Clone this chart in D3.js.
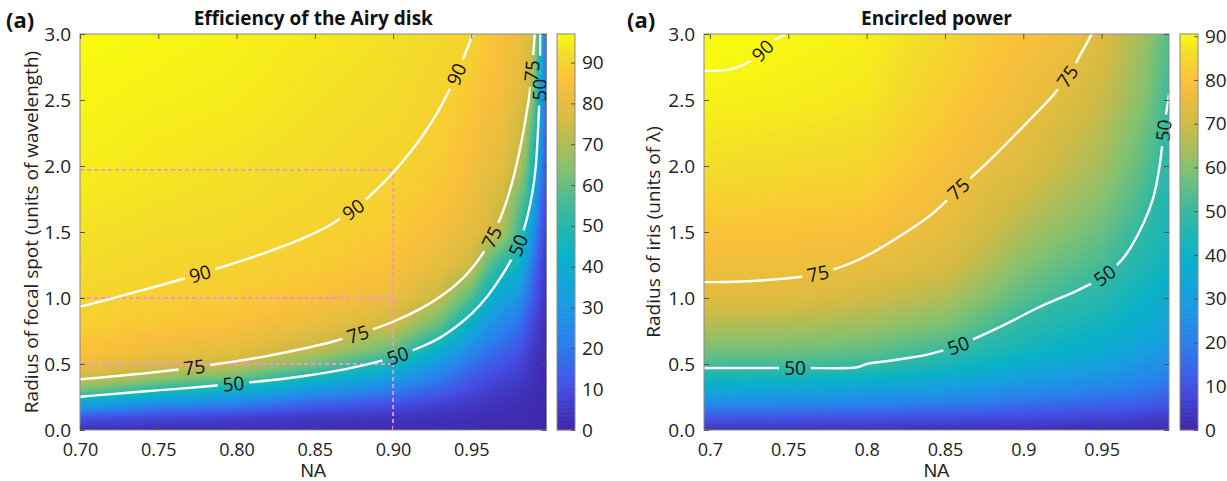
<!DOCTYPE html>
<html><head><meta charset="utf-8">
<script src="https://cdn.jsdelivr.net/npm/d3@7"></script>
<style>
body{margin:0;background:#fff;}
svg text{font-family:"Open Sans","Noto Sans",sans-serif;}
</style></head><body>
<svg id="chart" width="1227" height="481"></svg>
<script>
// ---------------- DATA ----------------
// Panel 1: Efficiency of the Airy disk (%), grid
const airyNA = [0.70, 0.75, 0.80, 0.85, 0.90, 0.93, 0.95, 0.96, 0.97, 0.98, 0.985, 0.99, 0.994, 0.998];
const airyRadius = [0, 0.1, 0.2, 0.3, 0.4, 0.5, 0.6, 0.8, 1.0, 1.25, 1.5, 1.75, 2.0, 2.5, 3.0];
const airyEfficiency = [
  [2, 2, 2, 2, 1.5, 1.5, 1, 1, 1, 1, 1, 0.5, 0.5, 0],
  [12, 9, 7, 5, 4, 3, 2.5, 2, 2, 1.5, 1.5, 1, 0.8, 0.3],
  [35, 26, 22, 15, 11, 7, 5, 4, 3, 2.5, 2, 1.5, 1, 0.5],
  [62, 50, 42, 29, 21, 14, 9, 7, 5, 4, 3, 2, 1.5, 0.7],
  [76, 68, 61, 47, 33, 21, 13, 10, 8, 6, 4.5, 3, 2, 0.8],
  [82, 77, 74, 62, 47, 29, 18, 14, 11, 8.5, 6, 4, 2.5, 1],
  [85.5, 82, 79.5, 72.5, 59, 40, 25, 19, 15, 11.5, 8, 5, 3, 1.3],
  [89, 87, 85, 81, 75, 60, 40, 30, 24, 19, 13, 8, 5, 2],
  [90.7, 89.2, 88.2, 85.3, 81.5, 73, 57, 44, 35, 29, 20, 12, 7, 3],
  [92, 90.8, 89.6, 88.3, 85.3, 80, 75, 60, 50, 45, 31, 18, 10, 4.5],
  [93, 92, 91.4, 89.8, 87.8, 83.5, 79.5, 77, 70, 55, 44, 26, 14, 6],
  [94, 93, 92.2, 90.9, 89.2, 86, 82, 78.5, 75, 62, 55, 35, 19, 8],
  [95, 93.8, 93, 91.9, 90.3, 88, 84, 81, 79.5, 73, 62, 45, 25, 10],
  [96, 95.2, 94.5, 93, 91.8, 89.8, 87.3, 84.5, 83, 79, 76, 62, 36, 14],
  [97, 96.3, 95.5, 94.1, 92.8, 91, 90.2, 87.5, 85, 82, 80, 76, 46, 19]
];
// contour lines [NA, radius]
const airyContour90 = [[0.70,0.934],[0.72,0.995],[0.74,1.06],[0.76,1.125],[0.78,1.195],[0.80,1.27],[0.82,1.35],[0.84,1.44],[0.86,1.555],[0.88,1.72],[0.90,1.95],[0.91,2.09],[0.92,2.25],[0.93,2.44],[0.94,2.68],[0.951,3.0]];
const airyContour75 = [[0.70,0.384],[0.72,0.405],[0.74,0.428],[0.76,0.455],[0.78,0.487],[0.80,0.522],[0.82,0.562],[0.84,0.61],[0.86,0.665],[0.88,0.735],[0.90,0.82],[0.92,0.935],[0.93,1.01],[0.94,1.1],[0.95,1.22],[0.96,1.39],[0.97,1.65],[0.975,1.83],[0.98,2.07],[0.985,2.38],[0.9874,2.57],[0.9905,3.0]];
const airyContour50 = [[0.70,0.252],[0.72,0.272],[0.74,0.292],[0.76,0.31],[0.78,0.33],[0.80,0.352],[0.82,0.375],[0.84,0.403],[0.86,0.44],[0.88,0.488],[0.90,0.55],[0.92,0.64],[0.93,0.70],[0.94,0.78],[0.95,0.88],[0.96,1.01],[0.97,1.18],[0.975,1.28],[0.98,1.40],[0.985,1.58],[0.989,1.8],[0.991,1.98],[0.9925,2.25],[0.9935,2.55],[0.994,3.0]];
const airyLabels90 = [[0.777,1.17],[0.874,1.68],[0.9395,2.70]];
const airyLabels75 = [[0.773,0.48],[0.8775,0.72],[0.963,1.46],[0.989,2.72]];
const airyLabels50 = [[0.798,0.336],[0.903,0.56],[0.98,1.40],[0.9935,2.58]];
const guideNA = 0.90;
const guideRadii = [0.5, 1.0, 1.97];
const airyNATicks = [0.70, 0.75, 0.80, 0.85, 0.90, 0.95];
const airyNALabels = ["0.70", "0.75", "0.80", "0.85", "0.90", "0.95"];
const airyColorTicks = [0, 10, 20, 30, 40, 50, 60, 70, 80, 90];
const airyColorMax = 97;

// Panel 2: Encircled power (%)
const encNA = [0.70, 0.75, 0.80, 0.85, 0.875, 0.90, 0.93, 0.95, 0.97, 0.98, 0.99];
const encRadius = [0, 0.1, 0.2, 0.3, 0.4, 0.5, 0.6, 0.8, 1.0, 1.25, 1.5, 1.75, 2.0, 2.5, 3.0];
const encPower = [
  [3, 3, 3, 2.5, 2.5, 2.5, 2, 2, 2, 1.5, 1.5],
  [12, 11.5, 11, 10, 9.5, 9, 8, 7.5, 7, 6, 5.5],
  [23, 22, 21, 19, 18, 16.5, 15, 14, 13, 12, 11],
  [34, 33, 31, 28, 26, 24, 22, 20.5, 19, 17.5, 16],
  [44, 43.5, 41, 37, 34, 31.5, 28.5, 26.5, 24, 22, 20.5],
  [52, 51.5, 50, 44, 40.5, 37.5, 34, 32, 28.5, 26, 24.5],
  [58, 57.5, 55.5, 50, 46, 42.5, 38.5, 36.5, 32.5, 30, 28],
  [66, 65.5, 63.5, 59, 53.5, 48, 44, 42, 38, 35.5, 33],
  [73, 73, 70, 65.5, 60, 54, 49, 46.5, 42, 40, 37],
  [77, 77, 75.5, 71.5, 66.5, 60, 55, 52, 46.5, 44.5, 41.5],
  [80.5, 80, 79, 74.5, 70.5, 65, 60, 56.5, 50, 47.5, 44],
  [83.5, 83, 82, 77, 73, 69, 64, 60.5, 54, 50, 46],
  [86, 85.5, 84.5, 79, 75.5, 73, 67.5, 64, 57, 53, 48],
  [89, 88.5, 87.5, 82.5, 79.5, 76.5, 72.5, 69, 62.5, 58.5, 51.5],
  [91, 90, 89, 85, 82, 79.5, 77, 73, 66, 62, 55]
];
const encContour90 = [[0.6962,2.72],[0.712,2.73],[0.722,2.77],[0.729,2.82],[0.736,2.9],[0.741,2.95],[0.748,3.0]];
const encContour75 = [[0.6962,1.12],[0.72,1.125],[0.74,1.14],[0.76,1.165],[0.78,1.22],[0.80,1.32],[0.82,1.46],[0.84,1.62],[0.86,1.84],[0.88,2.06],[0.90,2.30],[0.92,2.55],[0.93,2.71],[0.94,2.92],[0.9437,3.0]];
const encContour50 = [[0.6962,0.47],[0.72,0.47],[0.76,0.47],[0.794,0.475],[0.80,0.5],[0.815,0.525],[0.84,0.575],[0.8584,0.64],[0.885,0.78],[0.91,0.93],[0.935,1.06],[0.952,1.17],[0.965,1.32],[0.9765,1.56],[0.983,1.76],[0.987,2.0],[0.99,2.3],[0.993,2.54]];
const encLabels90 = [[0.733,2.88]];
const encLabels75 = [[0.769,1.18],[0.8584,1.83],[0.9278,2.68]];
const encLabels50 = [[0.7543,0.47],[0.8584,0.64],[0.952,1.17],[0.9895,2.27]];
const encNATicks = [0.70, 0.75, 0.80, 0.85, 0.90, 0.95];
const encNALabels = ["0.7", "0.75", "0.8", "0.85", "0.9", "0.95"];
const encColorTicks = [0, 10, 20, 30, 40, 50, 60, 70, 80, 90];
const encColorMax = 90.5;

const radiusTicks = [0, 0.5, 1.0, 1.5, 2.0, 2.5, 3.0];
const radiusLabels = ["0.0", "0.5", "1.0", "1.5", "2.0", "2.5", "3.0"];

// parula-like colormap stops
const parulaColors = ["#3e26a8","#4450e6","#2a80ec","#179ee0","#08b2c6","#35b9a0","#82c170","#d0ba44","#fbc03a","#f3dc2a","#f9fb0e"];
const parulaPos = [0, 0.11, 0.22, 0.33, 0.44, 0.55, 0.66, 0.77, 0.88, 0.95, 1.0];

// ---------------- DRAW ----------------
const W = 1227, H = 481;
const svg = d3.select("#chart");
const defs = svg.append("defs");
const textColor = "#222";
const FS = 19, FSX = 18;

function makeColor(max) {
  return d3.scaleLinear().domain(parulaPos.map(t => t * max)).range(parulaColors)
    .interpolate(d3.interpolateRgb).clamp(true);
}

function bilerp(xs, ys, grid, xv, yv) {
  let i = d3.bisectRight(xs, xv) - 1; i = Math.max(0, Math.min(xs.length - 2, i));
  let j = d3.bisectRight(ys, yv) - 1; j = Math.max(0, Math.min(ys.length - 2, j));
  const tx = Math.max(0, Math.min(1, (xv - xs[i]) / (xs[i + 1] - xs[i])));
  const ty = Math.max(0, Math.min(1, (yv - ys[j]) / (ys[j + 1] - ys[j])));
  const a = grid[j][i], b = grid[j][i + 1], c = grid[j + 1][i], d = grid[j + 1][i + 1];
  return (a * (1 - tx) + b * tx) * (1 - ty) + (c * (1 - tx) + d * tx) * ty;
}

function drawPanel(p) {
  const x = d3.scaleLinear().domain(p.xDomain).range([p.x0, p.x1]);
  const y = d3.scaleLinear().domain([0, 3]).range([p.y1, p.y0]);
  const color = makeColor(p.cmax);
  const g = svg.append("g");

  // heatmap
  const w = Math.round(p.x1 - p.x0), h = Math.round(p.y1 - p.y0);
  const cv = document.createElement("canvas"); cv.width = w; cv.height = h;
  const ctx = cv.getContext("2d"); const img = ctx.createImageData(w, h);
  const lut = d3.range(1001).map(i => d3.rgb(color(i / 1000 * p.cmax)));
  for (let py = 0; py < h; py++) {
    const r = y.invert(p.y0 + (py + 0.5) * (p.y1 - p.y0) / h);
    for (let px = 0; px < w; px++) {
      const na = x.invert(p.x0 + (px + 0.5) * (p.x1 - p.x0) / w);
      const v = bilerp(p.naArr, p.rArr, p.grid, na, r);
      const c = lut[Math.round(Math.max(0, Math.min(1, v / p.cmax)) * 1000)];
      const k = (py * w + px) * 4;
      img.data[k] = c.r; img.data[k + 1] = c.g; img.data[k + 2] = c.b; img.data[k + 3] = 255;
    }
  }
  ctx.putImageData(img, 0, 0);
  g.append("image").attr("x", p.x0).attr("y", p.y0).attr("width", p.x1 - p.x0).attr("height", p.y1 - p.y0)
    .attr("preserveAspectRatio", "none").attr("href", cv.toDataURL());

  // clip + mask
  const clipId = p.id + "-clip";
  defs.append("clipPath").attr("id", clipId).append("rect")
    .attr("x", p.x0).attr("y", p.y0).attr("width", p.x1 - p.x0).attr("height", p.y1 - p.y0);
  const maskId = p.id + "-mask";
  const mask = defs.append("mask").attr("id", maskId).attr("maskUnits", "userSpaceOnUse")
    .attr("x", 0).attr("y", 0).attr("width", W).attr("height", H);
  mask.append("rect").attr("width", W).attr("height", H).attr("fill", "white");

  // guides
  if (p.guides) {
    const gg = g.append("g").attr("stroke", "#f78fd8").attr("stroke-width", 1.8)
      .attr("stroke-dasharray", "4,3").attr("fill", "none");
    p.guides.radii.forEach(rv => {
      gg.append("line").attr("x1", x(p.xDomain[0])).attr("x2", x(p.guides.na))
        .attr("y1", y(rv)).attr("y2", y(rv));
    });
    gg.append("line").attr("x1", x(p.guides.na)).attr("x2", x(p.guides.na))
      .attr("y1", y(0)).attr("y2", y(d3.max(p.guides.radii)));
  }

  const line = d3.line().x(d => x(d[0])).y(d => y(d[1])).curve(d3.curveCatmullRom.alpha(0.5));
  const cg = g.append("g").attr("clip-path", `url(#${clipId})`);
  const lg = cg.append("g").attr("mask", `url(#${maskId})`);
  const tg = g.append("g");
  p.contours.forEach(ct => {
    const path = lg.append("path").attr("d", line(ct.pts)).attr("fill", "none")
      .attr("stroke", "white").attr("stroke-width", 2.4);
    const node = path.node();
    const L = node.getTotalLength();
    const samples = d3.range(0, L + 0.5, 0.5).map(l => node.getPointAtLength(Math.min(l, L)));
    ct.labels.forEach(lb => {
      const lx = x(lb[0]), ly = y(lb[1]);
      let best = 0, bd = Infinity;
      samples.forEach((s, i) => { const d = (s.x - lx) ** 2 + (s.y - ly) ** 2; if (d < bd) { bd = d; best = i; } });
      const a = samples[Math.max(0, best - 14)], b = samples[Math.min(samples.length - 1, best + 14)];
      let ang = Math.atan2(b.y - a.y, b.x - a.x) * 180 / Math.PI;
      if (ang > 90) ang -= 180; if (ang < -90) ang += 180;
      const sp = samples[best];
      const t = tg.append("text").attr("transform", `translate(${sp.x},${sp.y}) rotate(${ang})`)
        .attr("text-anchor", "middle").attr("dy", "0.36em").attr("font-size", 19)
        .attr("fill", "#111").text(ct.level);
      const tw = t.node().getComputedTextLength();
      mask.append("rect").attr("transform", `translate(${sp.x},${sp.y}) rotate(${ang})`)
        .attr("x", -tw / 2 - 5).attr("y", -9).attr("width", tw + 10).attr("height", 18).attr("fill", "black");
    });
  });

  // box
  g.append("rect").attr("x", p.x0).attr("y", p.y0).attr("width", p.x1 - p.x0).attr("height", p.y1 - p.y0)
    .attr("fill", "none").attr("stroke", "#8a8a8a").attr("stroke-width", 1);

  // axes
  const ax = d3.axisBottom(x).tickValues(p.xTicks).tickFormat((d, i) => p.xLabels[i]).tickSizeInner(-5).tickSizeOuter(0).tickPadding(13.2);
  const axg = g.append("g").attr("transform", `translate(0,${p.y1})`).call(ax);
  const axt = g.append("g").attr("transform", `translate(0,${p.y0})`).call(d3.axisTop(x).tickValues(p.xTicks).tickFormat("").tickSizeInner(-5).tickSizeOuter(0));
  const ay = d3.axisLeft(y).tickValues(radiusTicks).tickFormat((d, i) => radiusLabels[i]).tickSizeInner(-5).tickSizeOuter(0).tickPadding(9);
  const ayg = g.append("g").attr("transform", `translate(${p.x0},0)`).call(ay);
  const ayr = g.append("g").attr("transform", `translate(${p.x1},0)`).call(d3.axisRight(y).tickValues(radiusTicks).tickFormat("").tickSizeInner(-5).tickSizeOuter(0));
  [axg, axt, ayg, ayr].forEach(a => {
    a.select(".domain").remove();
    a.selectAll(".tick line").attr("stroke", "#555");
    a.selectAll("text").attr("font-size", FS).attr("fill", textColor).attr("font-family", null);
  });
  axg.selectAll("text").attr("font-size", FSX).attr("dy", "0.71em");

  // axis labels
  g.append("text").attr("x", (p.x0 + p.x1) / 2).attr("y", 476.5).attr("text-anchor", "middle")
    .attr("font-size", 18.5).attr("fill", textColor)
    .style("font-family", '"Liberation Sans", Arial, sans-serif').text("NA");
  g.append("text").attr("transform", `translate(${p.ylabelX},${(p.y0 + p.y1) / 2}) rotate(-90)`)
    .attr("text-anchor", "middle").attr("font-size", FS).attr("fill", textColor).text(p.ylabel);
  // title
  g.append("text").attr("x", (p.x0 + p.x1) / 2).attr("y", 25).attr("text-anchor", "middle")
    .attr("font-size", 19).attr("font-weight", "bold").attr("fill", "#111").text(p.title);
  g.append("text").attr("x", p.tagX).attr("y", 28).attr("font-size", 22).attr("font-weight", "bold")
    .attr("fill", "#111").text("(a)");

  // colorbar
  const cy = d3.scaleLinear().domain([0, p.cmax]).range([p.y1, p.y0]);
  const cb = g.append("g");
  const steps = d3.range(0, p.cmax, p.cmax / 300);
  cb.selectAll("rect.cb").data(steps).join("rect").attr("class", "cb")
    .attr("x", p.cbx0).attr("width", p.cbx1 - p.cbx0)
    .attr("y", d => cy(d + p.cmax / 300) - 0.3).attr("height", d => cy(d) - cy(d + p.cmax / 300) + 0.6)
    .attr("fill", d => color(d + p.cmax / 600));
  cb.append("rect").attr("x", p.cbx0).attr("y", p.y0).attr("width", p.cbx1 - p.cbx0).attr("height", p.y1 - p.y0)
    .attr("fill", "none").attr("stroke", "#8a8a8a");
  const cax = g.append("g").attr("transform", `translate(${p.cbx1},0)`)
    .call(d3.axisRight(cy).tickValues(p.cTicks).tickSizeInner(-4).tickSizeOuter(0).tickPadding(7));
  cax.select(".domain").remove();
  cax.selectAll(".tick line").attr("stroke", "#555");
  cax.selectAll("text").attr("font-size", FS).attr("fill", textColor).attr("font-family", null);
}

drawPanel({
  id: "airy", x0: 80, x1: 546.5, y0: 34, y1: 430, xDomain: [0.70, 0.998],
  naArr: airyNA, rArr: airyRadius, grid: airyEfficiency, cmax: airyColorMax,
  contours: [
    { level: 90, pts: airyContour90, labels: airyLabels90 },
    { level: 75, pts: airyContour75, labels: airyLabels75 },
    { level: 50, pts: airyContour50, labels: airyLabels50 }
  ],
  guides: { na: guideNA, radii: guideRadii },
  xTicks: airyNATicks, xLabels: airyNALabels, cTicks: airyColorTicks,
  title: "Efficiency of the Airy disk", ylabel: "Radius of focal spot (units of wavelength)",
  ylabelX: 38, tagX: 6, cbx0: 557, cbx1: 575
});
drawPanel({
  id: "enc", x0: 704, x1: 1169, y0: 34, y1: 430, xDomain: [0.6962, 0.993],
  naArr: encNA, rArr: encRadius, grid: encPower, cmax: encColorMax,
  contours: [
    { level: 90, pts: encContour90, labels: encLabels90 },
    { level: 75, pts: encContour75, labels: encLabels75 },
    { level: 50, pts: encContour50, labels: encLabels50 }
  ],
  guides: null,
  xTicks: encNATicks, xLabels: encNALabels, cTicks: encColorTicks,
  title: "Encircled power", ylabel: "Radius of iris (units of λ)",
  ylabelX: 660, tagX: 627, cbx0: 1180, cbx1: 1198
});
</script>
</body></html>
